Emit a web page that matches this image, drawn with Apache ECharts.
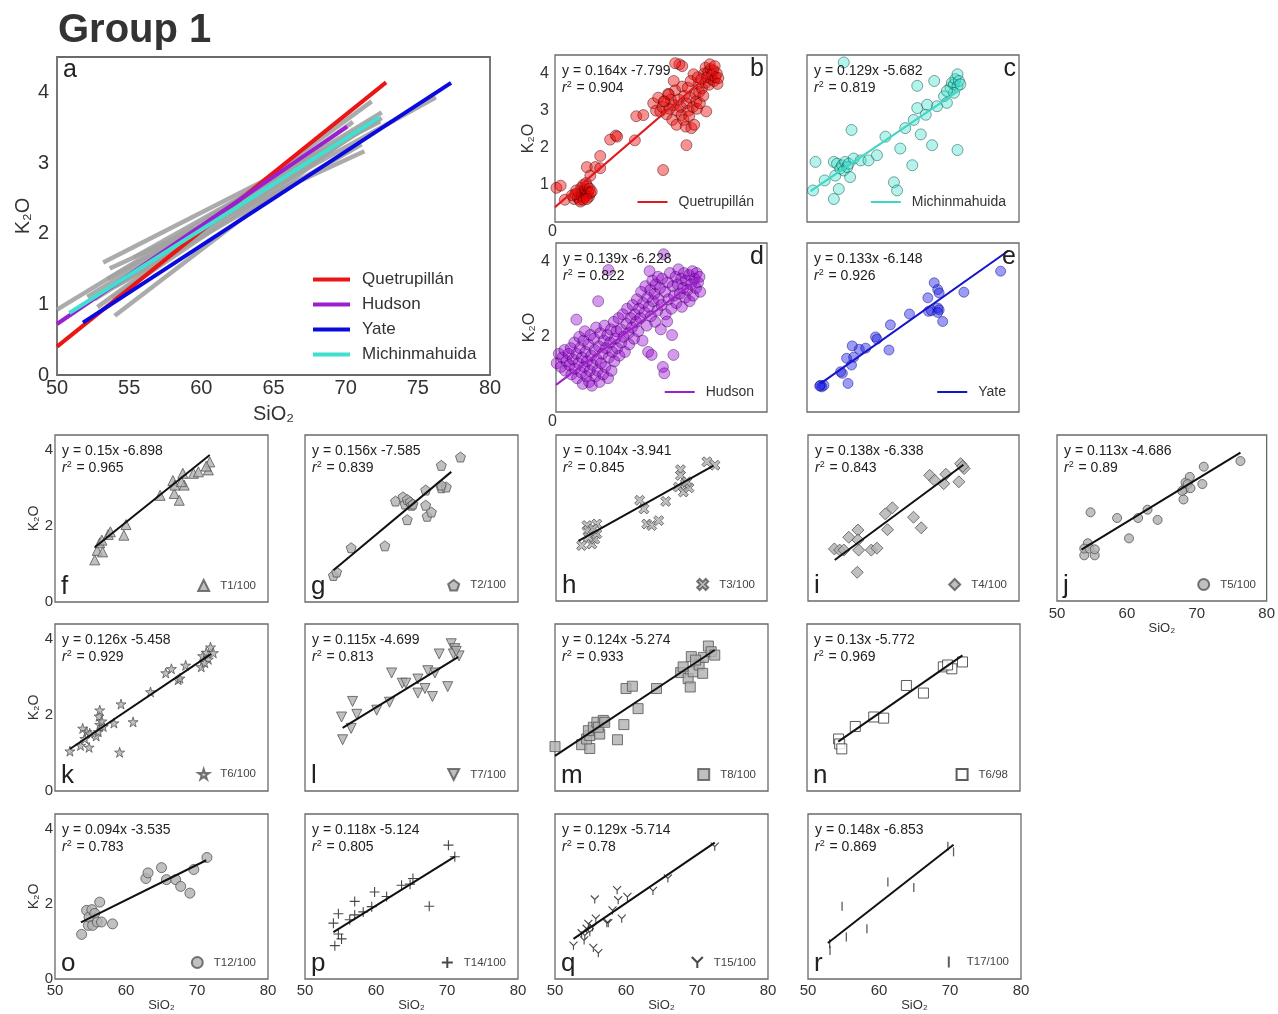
<!DOCTYPE html>
<html><head><meta charset="utf-8">
<script src="https://cdn.jsdelivr.net/npm/echarts@6/dist/echarts.min.js"></script>
<style>html,body{margin:0;padding:0;background:#fff}#c{width:1278px;height:1014px}</style>
</head><body><div id="c"></div><script>
// ---------------- DATA ----------------
const volcNames = ['Quetrupillán', 'Michinmahuida', 'Hudson', 'Yate'];
const volcSlope = [0.164, 0.129, 0.139, 0.133];
const volcIntercept = [-7.799, -5.682, -6.228, -6.148];
const volcR2 = ['0.904', '0.819', '0.822', '0.926'];
const volcFitX = [[50, 73.1], [50.5, 71.7], [50, 70.5], [51.9, 78.5]];
// lines as drawn in panel a (x range)
const aFitX = [[50, 72.8], [50.85, 72.3], [50, 70.1], [51.8, 77.3]];

const ptsB = [[50.2,0.92],[50.8,0.98],[51.4,0.6],[52.4,0.72],[52.7,0.62],[53.0,0.85],[53.2,0.66],[53.4,0.78],[53.5,0.6],[53.7,0.92],[53.8,0.7],[53.9,0.82],[54.0,1.0],[54.1,0.65],[54.2,0.75],[54.3,0.88],[54.4,1.05],[54.5,0.72],[54.6,0.95],[54.7,0.8],[54.8,0.68],[54.9,0.9],[55.0,0.78],[55.2,0.82],[53.6,0.55],[54.0,0.6],[52.9,0.75],[54.5,0.62],
 [54.5,1.48],[55.0,1.25],[55.7,1.48],[56.4,1.78],[56.4,1.45],[57.8,2.22],[58.6,2.33],[58.8,2.3],[61.3,2.2],[61.5,2.85],[62.5,2.88],[65.3,1.4],[68.6,2.07],
 [63.9,3.2],[64.3,3.0],[64.6,3.35],[64.9,2.98],[65.2,3.1],[65.5,3.25],[65.8,2.9],[66.0,3.45],[66.2,3.05],[66.4,3.3],[66.6,2.75],[66.8,3.15],[67.0,3.55],[67.2,2.62],[67.3,3.0],[67.5,3.3],[67.6,4.25],[67.8,3.1],[67.9,2.88],[68.0,3.65],[68.2,2.75],[68.3,3.4],[68.5,2.57],[68.6,3.2],[68.8,3.62],[68.9,3.0],[69.0,2.85],[69.1,3.35],[69.3,2.53],[69.5,3.1],[69.6,3.98],[69.7,2.62],[69.9,3.45],[70.0,3.25],[70.1,3.05],[70.3,3.72],[70.4,3.5],[70.5,3.2],[70.7,3.85],[70.8,3.6],[71.0,3.4],[71.1,4.0],[71.3,4.16],[71.3,3.75],[71.4,2.98],[71.5,3.9],[71.7,4.05],[71.8,3.7],[72.0,4.12],[72.1,3.85],[72.2,3.95],[72.4,4.08],[72.5,3.8],[72.7,3.9],[72.9,4.0],[73.0,3.72],[73.1,3.88],[66.8,3.8],[66.1,3.44],[65.4,3.25],[68.0,4.2],[67.0,4.28],[69.2,3.8],[70.2,3.9],[71.9,4.25],[72.6,4.2]];
const ptsC = [[50.85,0.85],[51.2,1.62],[52.5,1.12],[53.8,1.62],[53.8,0.62],[54.0,1.25],[54.25,1.57],[54.5,0.89],[54.7,1.44],[54.96,1.53],[55.2,1.39],[55.4,1.62],[55.7,1.48],[55.9,1.57],[56.1,1.21],[56.3,2.48],[56.6,1.71],[57.6,1.66],[58.7,1.66],[59.9,1.8],[61.1,2.3],[62.3,1.07],[62.75,0.85],[63.2,1.98],[63.9,2.53],[64.9,1.53],[65.1,2.75],[65.6,3.07],[66.1,2.36],[66.8,2.89],[67.0,3.16],[67.7,2.07],[68.0,3.8],[68.4,3.12],[65.6,3.67],[55.2,4.3],[69.4,3.39],[69.8,3.21],[70.3,3.62],[70.5,3.75],[70.8,3.71],[71.0,3.85],[71.3,3.66],[71.3,3.98],[71.5,3.8],[70.8,3.48],[71.3,1.94],[69.8,3.53],[71.7,3.71]];
const ptsD = [[50.1,1.3],[50.4,1.55],[50.7,1.2],[50.9,1.45],[51.2,1.65],[51.3,1.1],[51.5,1.35],[51.8,1.55],[51.9,1.25],[52.1,1.7],[52.2,1.0],[52.4,1.4],[52.6,1.85],[52.7,1.15],[52.9,1.55],[52.9,2.46],[53.0,0.9],[53.2,1.3],[53.3,2.0],[53.4,1.7],[53.6,1.05],[53.7,1.45],[53.8,0.75],[53.9,1.9],[54.0,1.2],[54.1,2.15],[54.2,1.6],[54.3,0.95],[54.4,1.35],[54.6,1.8],[54.7,0.8],[54.8,1.1],[54.9,2.05],[55.0,1.5],[55.1,0.7],[55.2,1.25],[55.4,1.95],[55.5,1.65],[55.6,0.95],[55.7,2.25],[55.8,1.4],[55.9,1.1],[56.0,2.95],[56.1,1.75],[56.2,0.8],[56.3,2.1],[56.4,1.3],[56.6,1.55],[56.7,1.0],[56.8,1.9],[56.9,2.3],[57.0,1.2],[57.1,1.7],[57.3,2.05],[57.4,0.9],[57.45,3.78],[57.5,1.45],[57.7,1.85],[57.8,2.2],[57.9,1.1],[58.0,1.6],[58.2,2.4],[58.3,1.35],[58.4,1.95],[58.6,2.15],[58.7,1.7],[58.9,2.5],[59.0,1.5],[59.2,2.2],[59.3,1.85],[59.5,2.6],[59.6,2.0],[59.8,1.6],[60.0,2.35],[60.1,2.75],[60.3,2.1],[60.4,1.8],[60.6,2.5],[60.8,2.25],[60.9,2.85],[61.1,1.95],[61.2,2.6],[61.4,2.4],[61.5,3.0],[61.7,2.15],[61.8,2.75],[62.0,2.5],[62.1,3.2],[62.3,1.9],[62.4,2.9],[62.6,2.65],[62.7,3.35],[62.9,2.3],[63.0,3.05],[63.1,1.6],[63.2,2.8],[63.3,3.75],[63.4,3.25],[63.5,2.55],[63.6,1.52],[63.7,3.5],[63.8,2.95],[64.0,3.15],[64.1,2.4],[64.2,3.4],[64.4,2.7],[64.5,3.6],[64.6,3.0],[64.8,3.3],[64.9,2.2],[65.0,2.85],[65.1,3.55],[65.2,1.2],[65.3,4.2],[65.4,1.03],[65.5,3.2],[65.6,2.6],[65.8,2.41],[65.9,3.45],[66.0,3.0],[66.2,3.7],[66.4,2.75],[66.5,2.05],[66.6,3.35],[66.7,1.52],[66.8,3.1],[67.0,3.6],[67.1,2.9],[67.3,3.4],[67.4,3.8],[67.6,3.15],[67.8,3.55],[67.9,2.8],[68.1,3.3],[68.2,3.7],[68.4,3.05],[68.5,3.5],[68.7,3.25],[68.9,3.65],[69.0,2.95],[69.2,3.4],[69.4,3.75],[69.5,3.1],[69.7,3.55],[69.9,3.3],[70.0,3.7],[70.2,3.45],[70.4,3.6],[70.5,3.2]];
const ptsE = [[51.9,0.71],[52.1,0.67],[52.4,0.71],[51.8,0.69],[54.75,1.07],[55.0,1.03],[55.8,0.76],[55.6,1.43],[56.3,1.25],[56.4,1.76],[56.6,1.46],[57.4,1.67],[58.3,1.7],[59.7,2.0],[59.9,1.94],[61.6,1.65],[61.8,2.32],[64.5,2.61],[67.1,3.04],[67.2,2.68],[67.6,2.7],[68.0,3.44],[68.5,3.26],[68.7,3.17],[68.5,2.77],[68.7,2.72],[68.5,2.65],[69.2,2.41],[72.2,3.19],[77.4,3.75]];

const smallNames = ['T1/100','T2/100','T3/100','T4/100','T5/100','T6/100','T7/100','T8/100','T6/98','T12/100','T14/100','T15/100','T17/100'];
const smallSlope = [0.15, 0.156, 0.104, 0.138, 0.113, 0.126, 0.115, 0.124, 0.13, 0.094, 0.118, 0.129, 0.148];
const smallIntercept = [-6.898, -7.585, -3.941, -6.338, -4.686, -5.458, -4.699, -5.274, -5.772, -3.535, -5.124, -5.714, -6.853];
const smallR2 = ['0.965','0.839','0.845','0.843','0.89','0.929','0.813','0.933','0.969','0.783','0.805','0.78','0.869'];
const smallFitX = [[55.6,71.8],[54,70.6],[53.2,72.4],[53.8,72.1],[53.5,76.25],[52.1,72],[55.3,71.6],[50,72.5],[54.4,71.9],[53.65,71.3],[54,71.1],[52.6,72.5],[52.8,70.5]];

const ptsF = [[55.6,1.11],[55.95,1.36],[56.3,1.56],[56.7,1.32],[56.6,1.63],[57.5,1.78],[57.8,1.85],[59.7,1.76],[60.0,2.04],[64.8,2.81],[66.6,3.2],[66.8,2.86],[67.5,2.68],[66.9,3.08],[68.0,3.39],[68.2,3.08],[67.8,3.17],[69.5,3.39],[70.2,3.43],[71.6,3.48],[71.8,3.69],[71.3,3.58]];
const ptsG = [[54.0,0.70],[54.45,0.79],[56.5,1.43],[61.25,1.48],[62.75,2.66],[63.8,2.77],[64.1,2.58],[64.4,2.70],[64.8,2.64],[65.0,2.55],[65.2,2.58],[64.4,2.17],[67.0,2.95],[67.0,2.55],[67.2,2.26],[67.8,2.37],[69.2,3.6],[69.2,3.01],[69.9,3.03],[71.9,3.82],[69.2,3.08]];
const ptsH = [[53.65,1.47],[54.4,2.0],[54.6,1.87],[55.1,1.51],[55.5,1.64],[55.8,2.04],[55.8,1.78],[55.3,1.91],[54.6,1.69],[61.9,2.67],[62.5,2.44],[62.9,2.04],[63.6,2.0],[64.6,2.13],[65.6,2.64],[67.7,3.48],[67.7,3.33],[67.4,3.02],[68.4,3.11],[68.1,2.89],[68.9,3.0],[68.6,3.16],[71.45,3.69],[72.6,3.6]];
const ptsI = [[53.75,1.38],[54.5,1.35],[55.1,1.35],[55.8,1.69],[57.1,1.88],[57.1,1.62],[57.2,1.35],[57.0,0.76],[59.0,1.35],[59.8,1.40],[61.0,2.31],[62.0,2.47],[61.3,1.89],[65.0,2.22],[66.1,1.94],[67.3,3.33],[68.0,3.2],[69.3,3.11],[69.6,3.36],[71.45,3.16],[71.7,3.64],[72.2,3.51],[72.0,3.57]];
const ptsJ = [[53.9,1.21],[55.4,1.21],[54.4,1.53],[53.9,1.39],[54.65,1.39],[55.4,1.37],[54.8,2.35],[58.6,2.2],[60.3,1.66],[61.6,2.2],[62.95,2.42],[64.4,2.15],[68.1,2.69],[68.2,2.96],[68.4,3.14],[69.0,3.29],[68.7,3.1],[69.1,2.99],[70.8,3.1],[71.0,3.56],[76.25,3.71],[67.9,2.92]];
const ptsK = [[52.1,1.05],[53.6,1.2],[53.9,1.65],[54.45,1.56],[54.8,1.15],[54.2,1.38],[54.9,1.52],[55.8,1.45],[56.1,1.56],[56.3,1.75],[56.2,1.97],[56.3,2.13],[56.8,1.7],[56.6,1.84],[58.3,1.79],[59.3,2.29],[59.1,1.02],[61.0,1.82],[63.45,2.61],[65.6,3.11],[66.4,3.22],[67.35,2.93],[67.6,2.97],[68.4,3.31],[70.6,3.27],[70.8,3.56],[71.3,3.65],[71.9,3.79],[71.6,3.47],[71.1,3.38],[72.3,3.64]];
const ptsL = [[55.3,1.35],[55.15,1.95],[56.5,1.65],[56.7,2.36],[57.3,2.02],[60.1,2.13],[61.9,2.34],[62.2,3.11],[63.7,2.84],[64.2,2.84],[65.9,2.58],[65.9,2.95],[66.9,2.7],[67.3,3.17],[67.95,2.49],[68.3,3.11],[68.9,3.61],[70.1,2.75],[70.6,3.88],[71.1,3.75],[70.9,3.61],[71.7,3.56],[71.3,3.68]];
const ptsM = [[50.0,1.17],[53.75,1.22],[54.9,1.12],[54.45,1.37],[54.9,1.46],[54.7,1.59],[55.4,1.68],[55.9,1.81],[56.3,1.5],[56.8,1.86],[56.1,1.68],[57.0,1.81],[58.8,1.35],[59.7,1.75],[60.0,2.7],[60.9,2.76],[61.7,2.17],[64.3,2.7],[67.7,3.12],[68.05,3.27],[69.2,3.54],[68.75,2.96],[69.05,2.74],[69.45,3.14],[70.3,3.32],[70.8,3.1],[70.9,3.52],[71.6,3.82],[72.0,3.67],[72.5,3.58],[69.8,3.45]];
const ptsN = [[54.45,1.37],[54.6,1.24],[54.9,1.11],[56.8,1.7],[59.4,1.95],[60.8,1.92],[64.0,2.78],[66.4,2.58],[69.2,3.27],[70.4,3.22],[71.9,3.4],[69.8,3.32]];
const ptsO = [[53.75,1.19],[54.45,1.83],[54.7,1.43],[54.8,1.65],[55.2,1.85],[55.3,1.43],[55.6,1.75],[55.95,1.52],[56.3,2.05],[56.55,1.52],[58.1,1.47],[62.8,2.68],[63.1,2.83],[65.0,2.97],[65.7,2.65],[67.0,2.65],[67.7,2.47],[69.0,2.29],[69.55,2.92],[71.4,3.24]];
const ptsP = [[54.0,1.49],[54.2,0.89],[54.7,1.74],[54.7,1.2],[55.15,1.07],[57.0,2.07],[56.3,1.58],[57.0,1.71],[58.2,1.79],[59.4,1.93],[59.8,2.32],[61.5,2.2],[63.6,2.5],[64.8,2.53],[65.2,2.68],[67.5,1.94],[70.2,3.57],[71.1,3.26]];
const ptsQ = [[52.6,0.89],[53.75,1.22],[54.1,1.03],[54.45,1.34],[54.7,1.47],[54.9,1.25],[55.3,1.38],[55.4,0.83],[56.1,0.69],[55.6,2.12],[55.75,1.61],[57.3,1.49],[57.5,1.49],[58.1,1.83],[58.75,2.37],[58.9,2.1],[59.4,1.61],[60.2,2.19],[63.8,2.35],[65.9,2.68],[72.5,3.53],[54.2,1.16]];
const ptsR = [[53.05,0.94],[53.1,0.76],[54.8,1.94],[55.4,1.12],[58.3,1.34],[61.25,2.59],[64.9,2.44],[69.7,3.54],[70.5,3.39]];
const smallPts = [ptsF, ptsG, ptsH, ptsI, ptsJ, ptsK, ptsL, ptsM, ptsN, ptsO, ptsP, ptsQ, ptsR];

// ---------------- LAYOUT / STYLE ----------------
const FONT = '"Liberation Sans", Arial, sans-serif';
const TXT = '#333';
const BOX = {
  a:[57,57,433,318],
  b:[555,55,212,167], c:[807,55,212,167], d:[556,243,211,169], e:[807,243,212,169],
  f:[55,435,213,167], g:[305,435,213,167], h:[556,435,211,166], i:[808,435,211,166], j:[1057,435,211,166],
  k:[55,624,213,167], l:[305,624,213,167], m:[555,624,213,167], n:[807,624,213,167],
  o:[55,814,213,165], p:[305,814,213,165], q:[555,814,213,165], r:[808,814,213,165]
};
const smallKeys = ['f','g','h','i','j','k','l','m','n','o','p','q','r'];
const bigKeys = ['b','c','d','e'];
const bigColors = [
  {fill:'rgba(240,10,10,0.55)', edge:'rgba(70,0,0,0.75)', line:'#e0191c', size:11},
  {fill:'rgba(64,224,208,0.5)', edge:'rgba(0,70,60,0.75)', line:'#3fd6c6', size:11},
  {fill:'rgba(150,0,210,0.5)', edge:'rgba(60,0,90,0.7)', line:'#a020c8', size:11},
  {fill:'rgba(30,30,235,0.55)', edge:'rgba(0,0,130,0.75)', line:'#1414c8', size:10}
];
const aColors = {'Quetrupillán':'#ea1616','Hudson':'#9b1fd0','Yate':'#0a0ae0','Michinmahuida':'#40e0d0'};

const grids = [], xAxes = [], yAxes = [], series = [], legends = [], graphics = [];

function fitLine(m, b, xr) { return [[xr[0], m * xr[0] + b], [xr[1], m * xr[1] + b]]; }

function addPanel(key, o) {
  const [l, t, w, h] = BOX[key];
  const idx = grids.length;
  grids.push({left:l, top:t, width:w, height:h, show:true, borderColor:'#6a6a6a', borderWidth:o.bw || 1.3, backgroundColor:'rgba(0,0,0,0)'});
  xAxes.push({gridIndex:idx, type:'value', min:50, max:80, interval:o.xInterval || 10,
    axisLine:{show:false}, axisTick:{show:false}, splitLine:{show:false},
    axisLabel:{show:!!o.xLabels, fontSize:o.xFont || 15, color:TXT, margin:o.xMargin || 5, fontFamily:FONT},
    name:o.xName ? 'SiO₂' : '', nameLocation:'middle', nameGap:o.xNameGap || 22,
    nameTextStyle:{fontSize:o.xNameFont || 13, color:TXT, fontFamily:FONT}});
  yAxes.push({gridIndex:idx, type:'value', min:0, max:o.yMax, interval:o.yInterval,
    axisLine:{show:false}, axisTick:{show:false}, splitLine:{show:false},
    axisLabel:{show:!!o.yLabels, showMaxLabel:false, fontSize:o.yFont || 15, color:TXT, margin:o.yMargin || 3, fontFamily:FONT,
      formatter: v => (o.hideZero && v === 0) ? '' : String(v)},
    name:o.yName ? 'K₂O' : '', nameLocation:'middle', nameGap:o.yNameGap || 15, nameRotate:90,
    nameTextStyle:{fontSize:o.yNameFont || 14, color:TXT, fontFamily:FONT}});
  return idx;
}
function txt(x, y, text, size, opt) {
  opt = opt || {};
  graphics.push({type:'text', x:x, y:y, silent:true, z:100, style:{text:text, fill:opt.fill || '#222',
    font:(opt.weight || 'normal') + ' ' + size + 'px ' + FONT, fontSize:size, fontFamily:FONT, fontWeight:opt.weight || 'normal',
    align:opt.align || 'left', verticalAlign:'middle', textAlign:opt.align || 'left', textVerticalAlign:'middle',
    rich:opt.rich}});
}
function eqText(key, m, b, r2) {
  const [l, t] = BOX[key];
  txt(l + 7, t + 16, 'y = ' + m + 'x ' + b, 14);
  txt(l + 7, t + 33, '{it|r}{sup|2} = ' + r2, 14, {rich:{
    it:{fontStyle:'italic', fontSize:14, fontFamily:FONT, fill:'#222', color:'#222'},
    sup:{fontSize:9, fontFamily:FONT, fill:'#222', color:'#222', verticalAlign:'top', padding:[0,1,6,0]}}});
}

// ---------- Panel a ----------
const ia = addPanel('a', {yMax:4.5, yInterval:1, xInterval:5, xLabels:true, yLabels:true, xFont:20, yFont:20,
  xMargin:3, yMargin:8, xName:true, xNameGap:29, xNameFont:20, yName:true, yNameGap:22, yNameFont:20, bw:1.8});
smallKeys.forEach((k, i) => {
  series.push({type:'line', xAxisIndex:ia, yAxisIndex:ia, symbol:'none', silent:true,
    data:fitLine(smallSlope[i], smallIntercept[i], smallFitX[i]),
    lineStyle:{color:'#a2a2a2', width:4.5, opacity:0.9}});
});
['Quetrupillán','Hudson','Yate','Michinmahuida'].forEach(nm => {
  const vi = volcNames.indexOf(nm);
  series.push({type:'line', name:nm, xAxisIndex:ia, yAxisIndex:ia, symbol:'none', silent:true,
    data:fitLine(volcSlope[vi], volcIntercept[vi], aFitX[vi]),
    lineStyle:{color:aColors[nm], width:4}, itemStyle:{color:aColors[nm]}});
});
legends.push({data:['Quetrupillán','Hudson','Yate','Michinmahuida'], orient:'vertical', left:313, top:271,
  icon:'rect', itemWidth:37, itemHeight:4, itemGap:8, padding:0, selectedMode:false,
  textStyle:{fontSize:17, color:TXT, fontFamily:FONT, lineHeight:16, padding:[0,0,0,7]}});
txt(63, 70, 'a', 25);

// ---------- Panels b-e ----------
const bigPts = [ptsB, ptsC, ptsD, ptsE];
bigKeys.forEach((k, i) => {
  const left = (k === 'b' || k === 'd');
  const idx = addPanel(k, {yMax:4.5, yInterval:(k === 'b' ? 1 : 2), yLabels:left, yFont:16, yMargin:6, hideZero:true,
    yName:left, yNameGap:14, yNameFont:16});
  const c = bigColors[i];
  series.push({type:'scatter', name:'s#' + volcNames[i], xAxisIndex:idx, yAxisIndex:idx, data:bigPts[i], symbolSize:c.size,
    itemStyle:{color:c.fill, borderColor:c.edge, borderWidth:0.8}, silent:true});
  series.push({type:'line', name:k + '#' + volcNames[i], xAxisIndex:idx, yAxisIndex:idx, symbol:'none', silent:true,
    data:fitLine(volcSlope[i], volcIntercept[i], volcFitX[i]),
    lineStyle:{color:c.line, width:2}, itemStyle:{color:c.line}, z:3});
  const [l, t, w, h] = BOX[k];
  legends.push({data:[k + '#' + volcNames[i]], right:1278 - (l + w - 13), top:t + h - 27, icon:'rect', itemWidth:30, itemHeight:2,
    padding:0, selectedMode:false, formatter: n => n.split('#').pop(),
    textStyle:{fontSize:14, color:TXT, fontFamily:FONT, lineHeight:14, padding:[0,0,0,6]}});
  eqText(k, volcSlope[i], volcIntercept[i], volcR2[i]);
  txt(l + w - 3, t + 14, k, 25, {align:'right'});
  if (left) txt(548, t + h + 10, '0', 16, {fill:TXT});
});

// ---------- Small panels f-r ----------
const P = 'path://';
const markerDefs = {
  f:{symbol:'triangle', size:10},
  g:{symbol:P + 'M50,0 L98,35 L79,91 L21,91 L2,35 Z', size:10},
  h:{symbol:P + 'M22,0 L50,28 L78,0 L100,22 L72,50 L100,78 L78,100 L50,72 L22,100 L0,78 L28,50 L0,22 Z', size:10},
  i:{symbol:'diamond', size:12},
  j:{symbol:'circle', size:9},
  k:{symbol:P + 'M50,0 L61,35 L98,35 L68,57 L79,91 L50,70 L21,91 L32,57 L2,35 L39,35 Z', size:10},
  l:{symbol:'triangle', size:10, rotate:180, legendIcon:P + 'M0,0 L10,0 L5,10 Z'},
  m:{symbol:'rect', size:10},
  n:{symbol:'rect', size:10, open:true},
  o:{symbol:'circle', size:10},
  p:{symbol:P + 'M5,0 L5,10 M0,5 L10,5', size:10, line:true},
  q:{symbol:P + 'M0,0 L5,5 L10,0 M5,5 L5,10', size:8, line:true},
  r:{symbol:'rect', size:[1.3, 9], tick:true}
};
smallKeys.forEach((k, i) => {
  const leftCol = (k === 'f' || k === 'k' || k === 'o');
  const bottom = (k === 'j' || k === 'o' || k === 'p' || k === 'q' || k === 'r');
  const idx = addPanel(k, {yMax:4.4, yInterval:2, yLabels:leftCol, yFont:15, yMargin:2, yName:leftCol, yNameGap:14, yNameFont:14,
    xLabels:bottom, xFont:15, xMargin:(k === 'j' ? 5 : 4), xName:bottom, xNameGap:(k === 'j' ? 21 : 20), xNameFont:13});
  const md = markerDefs[k];
  let itemStyle;
  if (md.line) itemStyle = {color:'rgba(0,0,0,0)', borderColor:'#1a1a1a', borderWidth:1.1};
  else if (md.tick) itemStyle = {color:'#333'};
  else if (md.open) itemStyle = {color:'#ffffff', borderColor:'#333', borderWidth:1};
  else itemStyle = {color:'#b0b0b0', borderColor:'#555', borderWidth:1};
  series.push({type:'scatter', name:smallNames[i], xAxisIndex:idx, yAxisIndex:idx, data:smallPts[i], symbol:md.symbol,
    symbolSize:md.size, symbolRotate:md.rotate || 0, itemStyle:itemStyle, silent:true});
  series.push({type:'line', xAxisIndex:idx, yAxisIndex:idx, symbol:'none', silent:true, z:3,
    data:fitLine(smallSlope[i], smallIntercept[i], smallFitX[i]), lineStyle:{color:'#111', width:2}});
  const [l, t, w, h] = BOX[k];
  const iw = md.tick ? 2 : 11;
  const item = md.legendIcon ? {name:smallNames[i], icon:md.legendIcon} : smallNames[i];
  legends.push({data:[item], right:1278 - (l + w - 12), top:t + h - 23, itemWidth:iw, itemHeight:11, padding:0,
    selectedMode:false, textStyle:{fontSize:11.5, color:'#444', fontFamily:FONT, padding:[0,0,0, md.tick ? 12 : 6]}});
  eqText(k, smallSlope[i], smallIntercept[i], smallR2[i]);
  txt(l + 6, t + h - 15, k, 26);
});

txt(58, 31, 'Group 1', 40, {weight:'bold', fill:'#333'});

const chart = echarts.init(document.getElementById('c'), null, {renderer:'canvas', width:1278, height:1014});
chart.setOption({
  animation:false, backgroundColor:'#ffffff',
  textStyle:{fontFamily:FONT},
  grid:grids, xAxis:xAxes, yAxis:yAxes, series:series, legend:legends, graphic:{elements:graphics}
});
</script></body></html>
